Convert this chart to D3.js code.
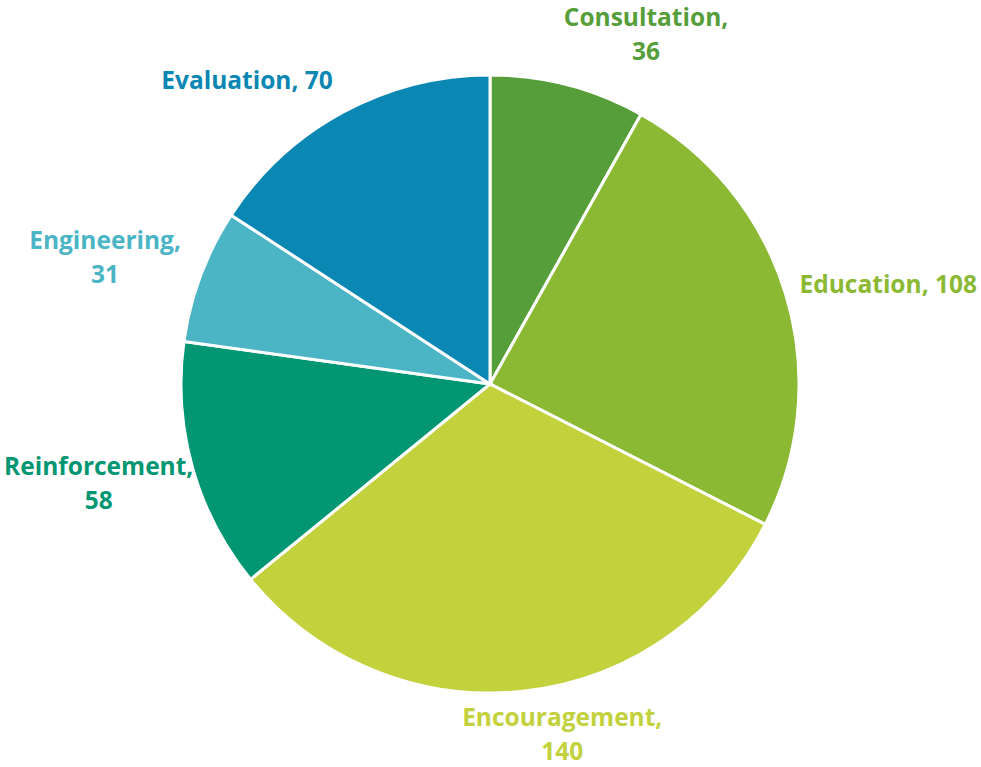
<!DOCTYPE html>
<html>
<head>
    <meta charset="utf-8" />
    <title>Pie</title>
    <style>
        body { margin: 0; background: #fff; }
        .slice { stroke: #fff; stroke-width: 3px; }
        .label { font-family: "Open Sans", sans-serif; font-weight: bold; font-size: 24.5px; text-anchor: middle; }
    </style>
</head>
<body>
    <script src="https://d3js.org/d3.v7.min.js"></script>
    <script>
        let categories = ['Consultation', 'Education', 'Encouragement', 'Reinforcement', 'Engineering', 'Evaluation']
        let values = [36, 108, 140, 58, 31, 70]
        let colors = ['#559E3A', '#8BB934', '#C2D13C', '#039672', '#4BB5C5', '#0B87B3']

        let width = 981,
            height = 767,
            cx = 490,
            cy = 384,
            radius = 309,
            labelOffset = 21,
            wrapWidth = 181,
            lineGap = 34

        let data = categories.map(function (c, i) {
            return { name: c, value: values[i], color: colors[i] }
        })

        let pie = d3.pie().sort(null).value(function (d) { return d.value })
        let arc = d3.arc().innerRadius(0).outerRadius(radius)

        let svg = d3.select('body')
                    .append('svg')
                    .attr('width', width)
                    .attr('height', height)

        let g = svg.append('g').attr('transform', `translate(${cx}, ${cy})`)

        let arcs = pie(data)

        g.selectAll('path')
            .data(arcs)
            .enter()
                .append('path')
                .classed('slice', true)
                .attr('d', arc)
                .attr('fill', function (d) { return d.data.color })

        // labels: outside end, Excel-like anchoring
        let labels = g.selectAll('text')
            .data(arcs)
            .enter()
                .append('text')
                .classed('label', true)
                .attr('fill', function (d) { return d.data.color })

        labels.each(function (d) {
            let t = d3.select(this)
            let full = d.data.name + ', ' + d.data.value
            t.text(full)
            let w = this.getBBox().width
            if (w > wrapWidth) {
                t.text(null)
                t.append('tspan').attr('x', 0).attr('dy', 0).text(d.data.name + ',')
                t.append('tspan').attr('x', 0).attr('dy', lineGap).text(d.data.value)
            }
            let box = this.getBBox()
            let a = (d.startAngle + d.endAngle) / 2
            let r = radius + labelOffset
            let px = Math.sin(a) * r,
                py = -Math.cos(a) * r
            let kx = Math.max(-1, Math.min(1, Math.sin(a) * 3.5))
            let centerX = px + kx * box.width / 2,
                centerY = py - Math.cos(a) * box.height / 2
            // keep inside chart area
            let minX = -cx + 4 + box.width / 2,
                maxX = width - cx - 4 - box.width / 2
            centerX = Math.max(minX, Math.min(maxX, centerX))
            let minY = -cy + box.height / 2,
                maxY = height - cy - box.height / 2
            centerY = Math.max(minY, Math.min(maxY, centerY))
            let bx = box.x + box.width / 2,
                by = box.y + box.height / 2
            t.attr('transform', `translate(${centerX - bx}, ${centerY - by})`)
        })
    </script>
</body>
</html>
